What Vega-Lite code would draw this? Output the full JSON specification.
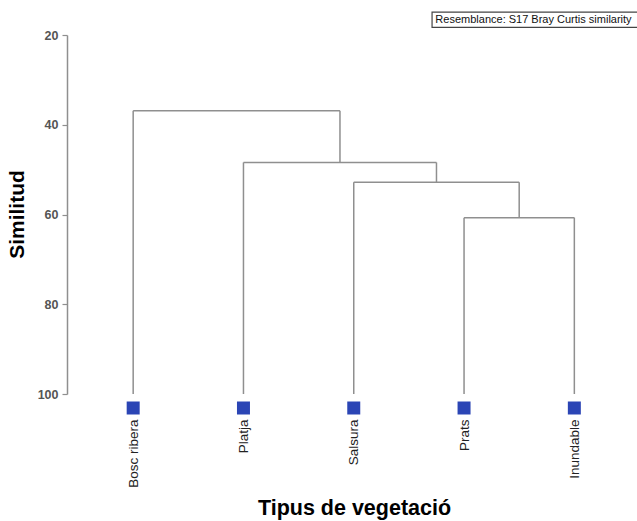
{
  "$schema": "https://vega.github.io/schema/vega-lite/v6.json",
  "autosize": "none",
  "width": 568,
  "height": 359,
  "padding": {"left": 67, "top": 35, "right": 2, "bottom": 127},
  "background": "white",
  "config": {"view": {"stroke": null}, "font": "Liberation Sans"},
  "datasets": {
    "segments": [
      {"x": 0, "x2": 0, "y": 100, "y2": 36.9},
      {"x": 1, "x2": 1, "y": 100, "y2": 48.4},
      {"x": 2, "x2": 2, "y": 100, "y2": 52.8},
      {"x": 3, "x2": 3, "y": 100, "y2": 60.7},
      {"x": 4, "x2": 4, "y": 100, "y2": 60.7},
      {"x": 3.5, "x2": 3.5, "y": 60.7, "y2": 52.8},
      {"x": 2.75, "x2": 2.75, "y": 52.8, "y2": 48.4},
      {"x": 1.875, "x2": 1.875, "y": 48.4, "y2": 36.9},
      {"x": 3, "x2": 4, "y": 60.7, "y2": 60.7},
      {"x": 2, "x2": 3.5, "y": 52.8, "y2": 52.8},
      {"x": 1, "x2": 2.75, "y": 48.4, "y2": 48.4},
      {"x": 0, "x2": 1.875, "y": 36.9, "y2": 36.9}
    ],
    "leaves": [
      {"x": 0, "name": "Bosc ribera", "sim": 100},
      {"x": 1, "name": "Platja", "sim": 100},
      {"x": 2, "name": "Salsura", "sim": 100},
      {"x": 3, "name": "Prats", "sim": 100},
      {"x": 4, "name": "Inundable", "sim": 100}
    ],
    "note": [
      {"x": 2.71, "x2": 4.6, "y": 14.9, "y2": 18.3, "tx": 2.74, "ty": 16.6, "label": "Resemblance: S17 Bray Curtis similarity"}
    ]
  },
  "layer": [
    {
      "data": {"name": "segments"},
      "mark": {"type": "rule", "color": "#8f8f8f", "strokeWidth": 1.5},
      "encoding": {
        "x": {
          "field": "x", "type": "quantitative",
          "scale": {"domain": [-0.6, 4.55], "nice": false, "zero": false},
          "axis": {
            "values": [0, 1, 2, 3, 4],
            "labelExpr": "['Bosc ribera','Platja','Salsura','Prats','Inundable'][datum.value]",
            "labelAngle": 270,
            "labelPadding": 25,
            "labelFontSize": 13.5,
            "labelColor": "#222",
            "domain": false,
            "ticks": false,
            "grid": false,
            "title": "Tipus de vegetació",
            "titleFontSize": 21.5,
            "titleFontWeight": "bold",
            "titleColor": "#000",
            "titleX": 287,
            "titleY": 114,
            "titleBaseline": "middle"
          }
        },
        "x2": {"field": "x2"},
        "y": {
          "field": "y", "type": "quantitative",
          "scale": {"domain": [20, 100], "reverse": true, "nice": false, "zero": false},
          "axis": {
            "values": [20, 40, 60, 80, 100],
            "grid": false,
            "domainColor": "#8f8f8f",
            "domainWidth": 1.5,
            "tickColor": "#8f8f8f",
            "tickSize": 5,
            "tickWidth": 1.2,
            "labelPadding": 4,
            "labelFontSize": 12.5,
            "labelFontWeight": "bold",
            "labelColor": "#555",
            "title": "Similitud",
            "titleFontSize": 21,
            "titleFontWeight": "bold",
            "titleColor": "#000",
            "titleX": -50,
            "titleY": 179,
            "titleAlign": "center",
            "titleBaseline": "middle"
          }
        },
        "y2": {"field": "y2"}
      }
    },
    {
      "data": {"name": "leaves"},
      "mark": {"type": "square", "filled": true, "color": "#2b45b5", "size": 169, "opacity": 1, "yOffset": 14},
      "encoding": {
        "x": {"field": "x", "type": "quantitative"},
        "y": {"field": "sim", "type": "quantitative"}
      }
    },
    {
      "data": {"name": "note"},
      "mark": {"type": "rect", "fill": "white", "stroke": "#444", "strokeWidth": 1.2},
      "encoding": {
        "x": {"field": "x", "type": "quantitative"},
        "x2": {"field": "x2"},
        "y": {"field": "y", "type": "quantitative"},
        "y2": {"field": "y2"}
      }
    },
    {
      "data": {"name": "note"},
      "mark": {"type": "text", "align": "left", "baseline": "middle", "fontSize": 11, "color": "#111"},
      "encoding": {
        "x": {"field": "tx", "type": "quantitative"},
        "y": {"field": "ty", "type": "quantitative"},
        "text": {"field": "label"}
      }
    }
  ]
}
